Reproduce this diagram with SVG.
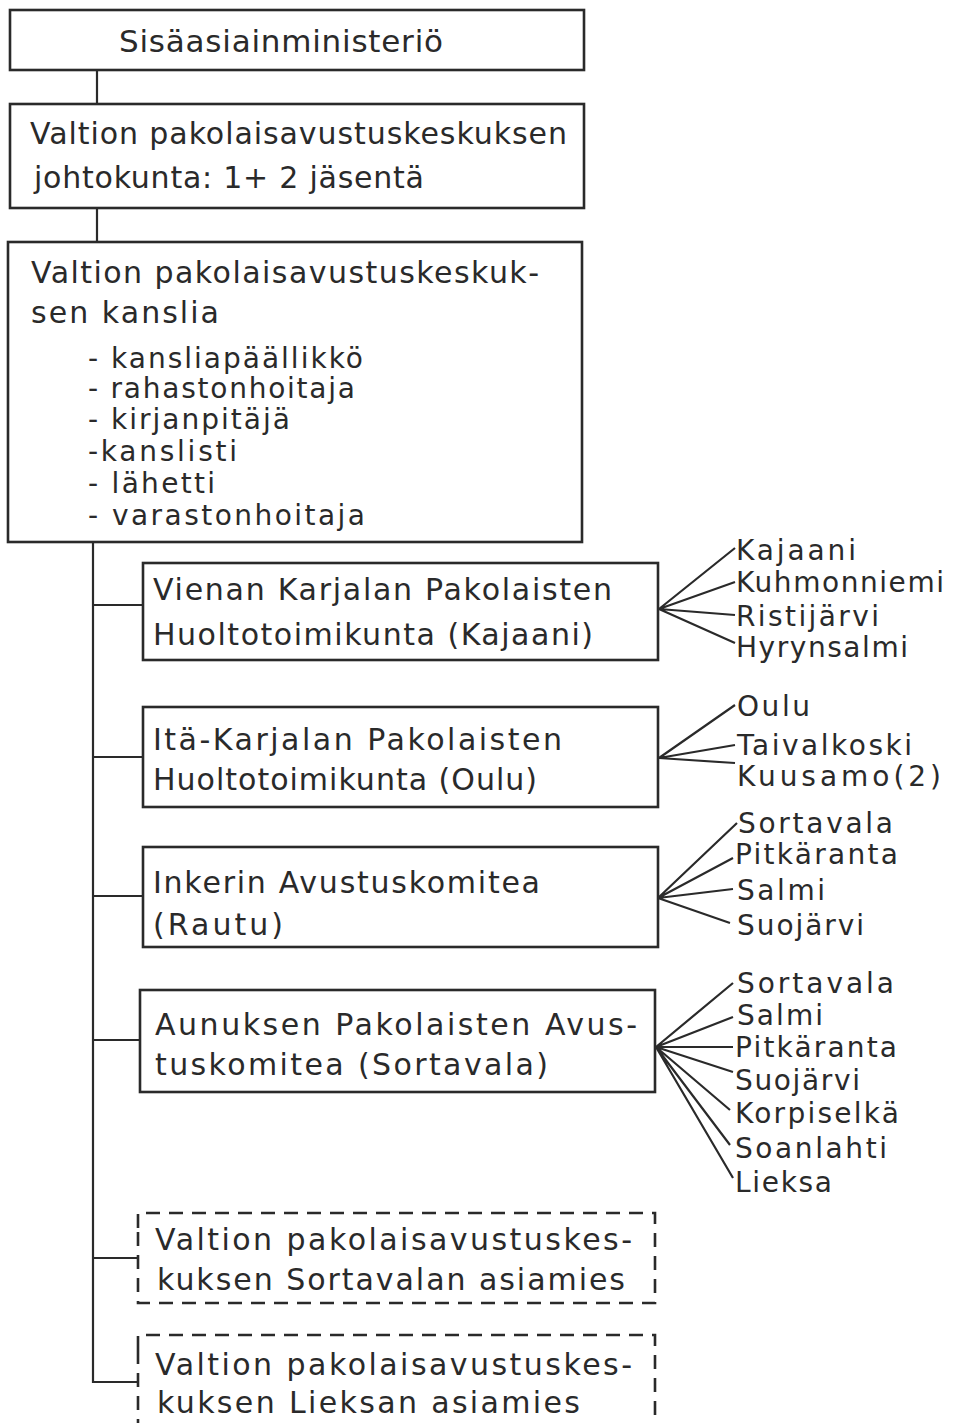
<svg xmlns="http://www.w3.org/2000/svg" width="957" height="1423" viewBox="0 0 957 1423">
<style>
text{font-family:"DejaVu Sans","Liberation Sans",sans-serif;font-size:30px;fill:#2a2a2a}
.big{font-size:31px}
.sm{font-size:28px}
.box{fill:#fff;stroke:#2a2a2a;stroke-width:2.6}
.dash{fill:none;stroke:#2a2a2a;stroke-width:2.6;stroke-dasharray:14 9}
.ln{fill:none;stroke:#2a2a2a;stroke-width:2.2}
</style>
<rect width="957" height="1423" fill="#fff"/>
<g id="connectors">
<path class="ln" d="M97 70V104M97 208V242"/>
<path class="ln" d="M93 542V1382H138M93 605H143M93 757H143M93 896H143M93 1040H140M93 1258H138"/>
<path class="ln" d="M659 609L735 548M659 609L735 582M659 609L735 615M659 609L735 643"/>
<path class="ln" d="M659 758L735 705M659 758L735 745M659 758L735 763"/>
<path class="ln" d="M658 898L737 823M658 898L733 858M658 898L733 889M658 898L730 923"/>
<path class="ln" d="M656 1047L733 983M656 1047L733 1017M656 1047L733 1047M656 1047L733 1072M656 1047L730 1110M656 1047L730 1145M656 1047L733 1178"/>
</g>
<g id="n1"><rect class="box" x="10" y="10" width="574" height="60"/>
<text class="big" x="119" y="52" textLength="324" lengthAdjust="spacing">Sisäasiainministeriö</text></g>
<g id="n2"><rect class="box" x="10" y="104" width="574" height="104"/>
<text x="30" y="144" textLength="537" lengthAdjust="spacing">Valtion pakolaisavustuskeskuksen</text>
<text x="34" y="188" textLength="390" lengthAdjust="spacing">johtokunta: 1+ 2 jäsentä</text></g>
<g id="n3"><rect class="box" x="8" y="242" width="574" height="300"/>
<text x="31" y="283" textLength="508" lengthAdjust="spacing">Valtion pakolaisavustuskeskuk-</text>
<text x="31" y="323" textLength="188" lengthAdjust="spacing">sen kanslia</text>
<g class="sm">
<text class="sm" x="88" y="368" textLength="275" lengthAdjust="spacing">- kansliapäällikkö</text>
<text class="sm" x="88" y="398" textLength="267" lengthAdjust="spacing">- rahastonhoitaja</text>
<text class="sm" x="88" y="429" textLength="202" lengthAdjust="spacing">- kirjanpitäjä</text>
<text class="sm" x="88" y="461" textLength="149" lengthAdjust="spacing">-kanslisti</text>
<text class="sm" x="88" y="493" textLength="127" lengthAdjust="spacing">- lähetti</text>
<text class="sm" x="88" y="525" textLength="277" lengthAdjust="spacing">- varastonhoitaja</text>
</g></g>
<g id="n4"><rect class="box" x="143" y="563" width="515" height="97"/>
<text x="153" y="600" textLength="459" lengthAdjust="spacing">Vienan Karjalan Pakolaisten</text>
<text x="153" y="645" textLength="440" lengthAdjust="spacing">Huoltotoimikunta (Kajaani)</text></g>
<g id="n5"><rect class="box" x="143" y="707" width="515" height="100"/>
<text x="153" y="750" textLength="409" lengthAdjust="spacing">Itä-Karjalan Pakolaisten</text>
<text x="153" y="790" textLength="384" lengthAdjust="spacing">Huoltotoimikunta (Oulu)</text></g>
<g id="n6"><rect class="box" x="143" y="847" width="515" height="100"/>
<text x="153" y="893" textLength="387" lengthAdjust="spacing">Inkerin Avustuskomitea</text>
<text x="153" y="935" textLength="130" lengthAdjust="spacing">(Rautu)</text></g>
<g id="n7"><rect class="box" x="140" y="990" width="515" height="102"/>
<text x="155" y="1035" textLength="482" lengthAdjust="spacing">Aunuksen Pakolaisten Avus-</text>
<text x="155" y="1075" textLength="393" lengthAdjust="spacing">tuskomitea (Sortavala)</text></g>
<g id="n8"><path class="dash" d="M138 1228V1213H655V1303H138V1228"/>
<text x="155" y="1250" textLength="477" lengthAdjust="spacing">Valtion pakolaisavustuskes-</text>
<text x="157" y="1290" textLength="468" lengthAdjust="spacing">kuksen Sortavalan asiamies</text></g>
<g id="n9"><path class="dash" d="M138 1350V1335H655V1430M138 1350V1430"/>
<text x="155" y="1375" textLength="477" lengthAdjust="spacing">Valtion pakolaisavustuskes-</text>
<text x="157" y="1413" textLength="423" lengthAdjust="spacing">kuksen Lieksan asiamies</text></g>
<g id="labels">
<text class="sm" x="736" y="560" textLength="120" lengthAdjust="spacing">Kajaani</text>
<text class="sm" x="736" y="592" textLength="208" lengthAdjust="spacing">Kuhmonniemi</text>
<text class="sm" x="736" y="626" textLength="143" lengthAdjust="spacing">Ristijärvi</text>
<text class="sm" x="736" y="657" textLength="172" lengthAdjust="spacing">Hyrynsalmi</text>
<text class="sm" x="737" y="716" textLength="73" lengthAdjust="spacing">Oulu</text>
<text class="sm" x="737" y="755" textLength="175" lengthAdjust="spacing">Taivalkoski</text>
<text class="sm" x="737" y="786" textLength="204" lengthAdjust="spacing">Kuusamo(2)</text>
<text class="sm" x="738" y="833" textLength="155" lengthAdjust="spacing">Sortavala</text>
<text class="sm" x="735" y="864" textLength="163" lengthAdjust="spacing">Pitkäranta</text>
<text class="sm" x="737" y="900" textLength="88" lengthAdjust="spacing">Salmi</text>
<text class="sm" x="737" y="935" textLength="127" lengthAdjust="spacing">Suojärvi</text>
<text class="sm" x="737" y="993" textLength="157" lengthAdjust="spacing">Sortavala</text>
<text class="sm" x="737" y="1025" textLength="86" lengthAdjust="spacing">Salmi</text>
<text class="sm" x="735" y="1057" textLength="162" lengthAdjust="spacing">Pitkäranta</text>
<text class="sm" x="735" y="1090" textLength="125" lengthAdjust="spacing">Suojärvi</text>
<text class="sm" x="735" y="1123" textLength="164" lengthAdjust="spacing">Korpiselkä</text>
<text class="sm" x="735" y="1158" textLength="152" lengthAdjust="spacing">Soanlahti</text>
<text class="sm" x="735" y="1192" textLength="97" lengthAdjust="spacing">Lieksa</text>
</g>
</svg>
